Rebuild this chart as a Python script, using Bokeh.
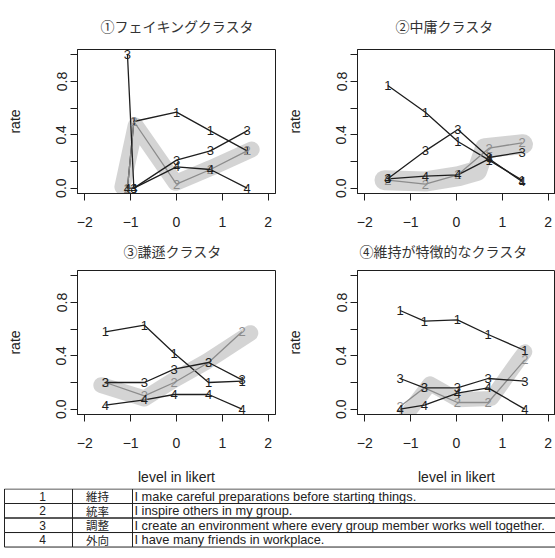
from bokeh.plotting import figure
from bokeh.layouts import column, row
from bokeh.models import Range1d, FixedTicker
from bokeh.core.properties import value
from bokeh.embed import file_html
from bokeh.resources import INLINE

# ---------------- data ----------------
titles = ["①フェイキングクラスタ", "②中庸クラスタ", "③謙遜クラスタ", "④維持が特徴的なクラスタ"]
item_labels = ["1", "2", "3", "4"]
x_ticks = [-2, -1, 0, 1, 2]
y_ticks = [0.0, 0.2, 0.4, 0.6, 0.8, 1.0]

# panel 1
p1_x = [-1.07, -0.93, 0.0, 0.74, 1.54]
p1_item1 = [0.00, 0.50, 0.57, 0.43, 0.28]
p1_item2 = [0.00, 0.50, 0.03, 0.14, 0.28]
p1_item3 = [1.00, 0.00, 0.21, 0.28, 0.43]
p1_item4 = [0.00, 0.00, 0.16, 0.14, 0.00]
p1_band_x = [-1.18, -0.89, -0.02, 0.74, 1.64]
p1_band_y = [0.01, 0.47, 0.04, 0.15, 0.29]

# panel 2
p2_x = [-1.50, -0.68, 0.03, 0.71, 1.43]
p2_item1 = [0.77, 0.57, 0.35, 0.21, 0.06]
p2_item2 = [0.06, 0.03, 0.10, 0.30, 0.34]
p2_item3 = [0.07, 0.28, 0.44, 0.23, 0.27]
p2_item4 = [0.07, 0.09, 0.10, 0.22, 0.05]
p2_band_x = [-1.57, -0.68, 0.05, 0.45, 0.62, 1.45]
p2_band_y = [0.06, 0.05, 0.09, 0.13, 0.30, 0.33]

# panel 3
p3_x = [-1.55, -0.70, -0.05, 0.70, 1.43]
p3_item1 = [0.58, 0.63, 0.42, 0.20, 0.21]
p3_item2 = [0.20, 0.10, 0.20, 0.35, 0.58]
p3_item3 = [0.20, 0.20, 0.30, 0.35, 0.22]
p3_item4 = [0.03, 0.07, 0.11, 0.11, 0.00]
p3_band_x = [-1.64, -0.70, -0.05, 0.67, 1.61]
p3_band_y = [0.18, 0.08, 0.22, 0.36, 0.57]

# panel 4
p4_x = [-1.23, -0.70, 0.02, 0.69, 1.49]
p4_item1 = [0.74, 0.66, 0.67, 0.56, 0.44]
p4_item2 = [0.02, 0.16, 0.05, 0.05, 0.37]
p4_item3 = [0.23, 0.16, 0.16, 0.23, 0.21]
p4_item4 = [0.00, 0.03, 0.12, 0.16, 0.00]
p4_band_x = [-1.09, -0.58, 0.04, 0.76, 1.34, 1.49]
p4_band_y = [-0.04, 0.19, 0.07, 0.08, 0.36, 0.43]

table_no = ["1", "2", "3", "4"]
table_jp = ["維持", "統率", "調整", "外向"]
table_en = ["I make careful  preparations  before  starting things.",
            "I inspire others in my group.",
            "I create an environment  where every group member works well together.",
            "I have  many friends in workplace."]

# ---------------- styling ----------------
SANS = "Liberation Sans"
JP = "Noto Sans CJK JP"
BLACK = "#1e1e1e"
GRAY = "#8c8c8c"
BAND = "#d2d2d2"


def make_panel(title, xs, items, bx, by, width, height, right, top, bottom,
               title_offset, title_standoff, band_width, xlabel):
    p = figure(width=width, height=height, x_range=Range1d(-2.16, 2.16),
               y_range=Range1d(-0.04, 1.04), output_backend="svg",
               toolbar_location=None, min_border_left=77, min_border_right=right,
               min_border_top=top, min_border_bottom=bottom, title=title)
    p.grid.visible = False
    p.outline_line_color = BLACK
    p.outline_line_width = 1
    p.background_fill_color = "white"
    p.border_fill_color = "white"

    p.title.text_font = JP
    p.title.text_font_size = "14px"
    p.title.text_font_style = "normal"
    p.title.text_color = "#333333"
    p.title.align = "left"
    p.title.offset = title_offset
    p.title.standoff = title_standoff

    for ax in (p.xaxis[0], p.yaxis[0]):
        ax.axis_line_color = BLACK
        ax.major_tick_line_color = BLACK
        ax.major_tick_out = 7
        ax.major_tick_in = 0
        ax.minor_tick_out = 0
        ax.minor_tick_in = 0
        ax.major_label_text_font = SANS
        ax.major_label_text_font_size = "14px"
        ax.major_label_text_color = "#222222"
        ax.axis_label_text_font = SANS
        ax.axis_label_text_font_size = "14px"
        ax.axis_label_text_font_style = "normal"
        ax.axis_label_text_color = "#222222"

    p.xaxis.ticker = FixedTicker(ticks=x_ticks)
    p.xaxis.major_label_overrides = {t: (str(t).replace("-", "\u2212")) for t in x_ticks}
    p.xaxis.major_label_standoff = 16
    if xlabel:
        p.xaxis.axis_label = xlabel
        p.xaxis.axis_label_standoff = 18

    p.yaxis.ticker = FixedTicker(ticks=y_ticks)
    p.yaxis.major_label_overrides = {t: (f"{t:.1f}" if i % 2 == 0 else "")
                                     for i, t in enumerate(y_ticks)}
    p.yaxis.major_label_orientation = "vertical"
    p.yaxis.major_label_standoff = 4
    p.yaxis.axis_label = "rate"
    p.yaxis.axis_label_standoff = 31

    # highlighter band
    p.line(bx, by, line_color=BAND, line_width=band_width, line_alpha=0.95,
           line_cap="round", line_join="round")

    colors = [BLACK, GRAY, BLACK, BLACK]
    for k in range(4):
        p.line(xs, items[k], line_color=colors[k], line_width=1.3)
    for k in range(4):
        p.text(xs, items[k], text=[item_labels[k]] * len(xs), text_color=colors[k],
               text_font=value(SANS), text_font_size="13px",
               text_align="center", text_baseline="middle")
    return p


f1 = make_panel(titles[0], p1_x, [p1_item1, p1_item2, p1_item3, p1_item4],
                p1_band_x, p1_band_y, 280, 229, 5, 45, 36, 23, 27, 16, None)
f2 = make_panel(titles[1], p2_x, [p2_item1, p2_item2, p2_item3, p2_item4],
                p2_band_x, p2_band_y, 275, 229, 0, 45, 36, 38, 27, 20, None)
f3 = make_panel(titles[2], p3_x, [p3_item1, p3_item2, p3_item3, p3_item4],
                p3_band_x, p3_band_y, 280, 259, 5, 37, 74, 46, 19, 16,
                "level in likert")
f4 = make_panel(titles[3], p4_x, [p4_item1, p4_item2, p4_item3, p4_item4],
                p4_band_x, p4_band_y, 275, 259, 0, 37, 74, 2, 19, 15,
                "level in likert")

# ---------------- table ----------------
col_edges = [4, 72, 132, 600]
n_rows = len(table_no)
t = figure(width=555, height=70, x_range=Range1d(0, 555), y_range=Range1d(4.79, -0.034),
           output_backend="svg", toolbar_location=None, x_axis_type=None,
           y_axis_type=None, min_border=0)
t.grid.visible = False
t.outline_line_color = None
rows_i = list(range(n_rows))
for c in range(3):
    t.quad(left=[col_edges[c]] * n_rows, right=[col_edges[c + 1]] * n_rows,
           top=rows_i, bottom=[r + 1 for r in rows_i],
           fill_color=None, line_color="#222222", line_width=1)
mid = [r + 0.5 for r in rows_i]
t.text([42] * n_rows, mid, text=table_no, text_font=value(SANS), text_font_size="12px",
       text_align="center", text_baseline="middle", text_color="#222222")
t.text([97] * n_rows, mid, text=table_jp, text_font=value(JP), text_font_size="11.5px",
       text_align="center", text_baseline="middle", text_color="#222222")
t.text([134] * n_rows, mid, text=table_en, text_font=value(SANS), text_font_size="12.8px",
       text_align="left", text_baseline="middle", text_color="#222222")

layout = column(row(f1, f2), row(f3, f4), t)
open("out.html", "w").write(file_html(layout, INLINE))
